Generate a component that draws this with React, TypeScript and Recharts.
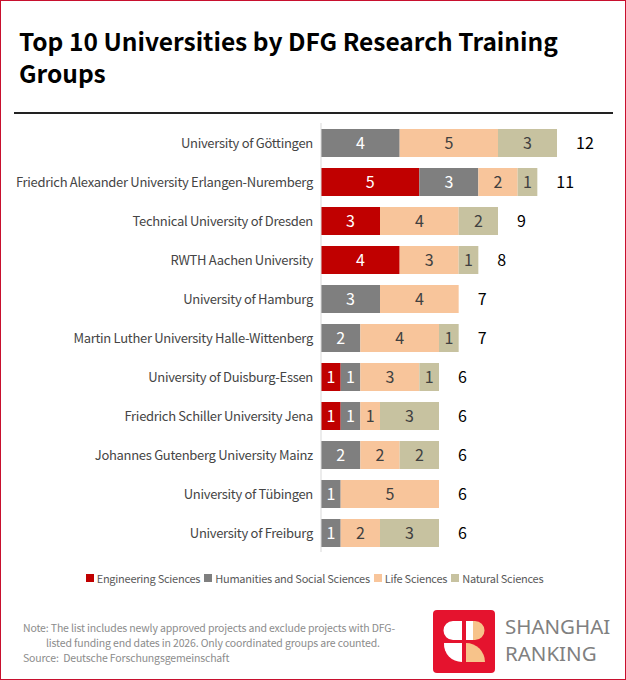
import { BarChart, Bar, XAxis, YAxis, LabelList, Legend } from "recharts"

const FONT = '"Noto Sans CJK SC", "Noto Sans", sans-serif'

const universities = [
  "University of Göttingen",
  "Friedrich Alexander University Erlangen-Nuremberg",
  "Technical University of Dresden",
  "RWTH Aachen University",
  "University of Hamburg",
  "Martin Luther University Halle-Wittenberg",
  "University of Duisburg-Essen",
  "Friedrich Schiller University Jena",
  "Johannes Gutenberg University Mainz",
  "University of Tübingen",
  "University of Freiburg",
]

const engineering = [0, 5, 3, 4, 0, 0, 1, 1, 0, 0, 0]
const humanities = [4, 3, 0, 0, 3, 2, 1, 1, 2, 1, 1]
const life = [5, 2, 4, 3, 4, 4, 3, 1, 2, 5, 2]
const natural = [3, 1, 2, 1, 0, 1, 1, 3, 2, 0, 3]

const SERIES = [
  { key: "eng", name: "Engineering Sciences", color: "#c00000", text: "#ffffff" },
  { key: "hum", name: "Humanities and Social Sciences", color: "#7f7f7f", text: "#ffffff" },
  { key: "life", name: "Life Sciences", color: "#f8c59b", text: "#404040" },
  { key: "nat", name: "Natural Sciences", color: "#c7c2a0", text: "#404040" },
]

const data = universities.map((name, i) => ({
  name,
  eng: engineering[i],
  hum: humanities[i],
  life: life[i],
  nat: natural[i],
  total: engineering[i] + humanities[i] + life[i] + natural[i],
}))

function CategoryTick(props: any) {
  const { x, y, payload } = props
  return (
    <text
      x={x}
      y={y}
      textAnchor="end"
      dominantBaseline="central"
      fontSize={13}
      letterSpacing={-0.3}
      fill="#454545"
      fontFamily={FONT}
    >
      {payload.value}
    </text>
  )
}

function LegendRow() {
  return (
    <div
      style={{
        display: "flex",
        justifyContent: "center",
        paddingLeft: 18,
        fontSize: 11,
        letterSpacing: -0.25,
        color: "#595959",
        fontFamily: FONT,
      }}
    >
      {SERIES.map((s) => (
        <span key={s.key} style={{ display: "flex", alignItems: "center", marginRight: 4 }}>
          <span style={{ width: 8, height: 8, background: s.color, marginRight: 3, display: "inline-block" }} />
          {s.name}
        </span>
      ))}
    </div>
  )
}

function Logo() {
  return (
    <svg width={62} height={63} viewBox="0 0 62 63" style={{ position: "absolute", left: 432, top: 609 }}>
      <rect x={0} y={0} width={62} height={63} rx={4} fill="#e5132e" />
      <path d="M29 11 H20 A9.5 9.5 0 0 0 20 30 H29 Z" fill="#fff" />
      <path d="M11 33 H29 V52 A18 18 0 0 1 11 33 Z" fill="#fff" />
      <rect x={33} y={11} width={7} height={19} fill="#fff" />
      <path d="M40 11 H42 A9.5 9.5 0 0 1 42 30 H40 Z" fill="#f7c38a" />
      <path d="M33 33 A19 19 0 0 1 52 52 H33 Z" fill="#f7c38a" />
    </svg>
  )
}

export default function App() {
  return (
    <div
      style={{
        position: "absolute",
        left: 0,
        top: 0,
        width: 626,
        height: 680,
        boxSizing: "border-box",
        border: "1.5px solid #c8102e",
        background: "#fff",
        fontFamily: FONT,
      }}
    >
      <div
        style={{
          position: "absolute",
          left: 18,
          top: 24,
          width: 590,
          fontSize: 24.5,
          fontWeight: 700,
          lineHeight: "32px",
          color: "#000",
        }}
      >
        Top 10 Universities by DFG Research Training Groups
      </div>
      <div style={{ position: "absolute", left: 13, top: 111, width: 599, height: 2, background: "#222" }} />

      <div style={{ position: "absolute", left: -1.5, top: 111.5 }}>
        <BarChart
          layout="vertical"
          width={626}
          height={480}
          data={data}
          margin={{ top: 10, right: 10, left: 0, bottom: 6 }}
          barSize={28}
          barGap={-28}
        >
          <XAxis type="number" hide domain={[0, 15]} />
          <YAxis
            type="category"
            dataKey="name"
            width={321}
            tickLine={false}
            axisLine={{ stroke: "#d9d9d9" }}
            tick={<CategoryTick />}
            interval={0}
          />
          <Legend
            verticalAlign="bottom"
            content={<LegendRow />}
            wrapperStyle={{ paddingTop: 17, lineHeight: "18px" }}
          />
          {SERIES.map((s) => (
            <Bar key={s.key} dataKey={s.key} name={s.name} stackId="a" fill={s.color} isAnimationActive={false}>
              <LabelList
                dataKey={s.key}
                position="center"
                fill={s.text}
                fontSize={16}
                fontFamily={FONT}
                formatter={(v: any) => (v ? v : "")}
              />
            </Bar>
          ))}
          {/* invisible overlay bar carrying the total labels */}
          <Bar dataKey="total" stackId="t" fill="transparent" isAnimationActive={false}>
            <LabelList
              dataKey="total"
              position="right"
              offset={19}
              fill="#000"
              fontSize={16}
              fontFamily={FONT}
            />
          </Bar>
        </BarChart>
      </div>

      <div
        style={{
          position: "absolute",
          left: 22,
          top: 619,
          width: 400,
          fontSize: 10.5,
          letterSpacing: -0.15,
          lineHeight: "15px",
          color: "#8c8c8c",
        }}
      >
        <div>Note: The list includes newly approved projects and exclude projects with DFG-</div>
        <div style={{ paddingLeft: 23 }}>listed funding end dates in 2026. Only coordinated groups are counted.</div>
        <div>Source:&nbsp; Deutsche Forschungsgemeinschaft</div>
      </div>

      <Logo />
      <div
        style={{
          position: "absolute",
          left: 504,
          top: 612,
          fontFamily: '"Noto Sans", sans-serif',
          fontSize: 20.5,
          lineHeight: "27px",
          color: "#808080",
        }}
      >
        <div>SHANGHAI</div>
        <div>RANKING</div>
      </div>
    </div>
  )
}
